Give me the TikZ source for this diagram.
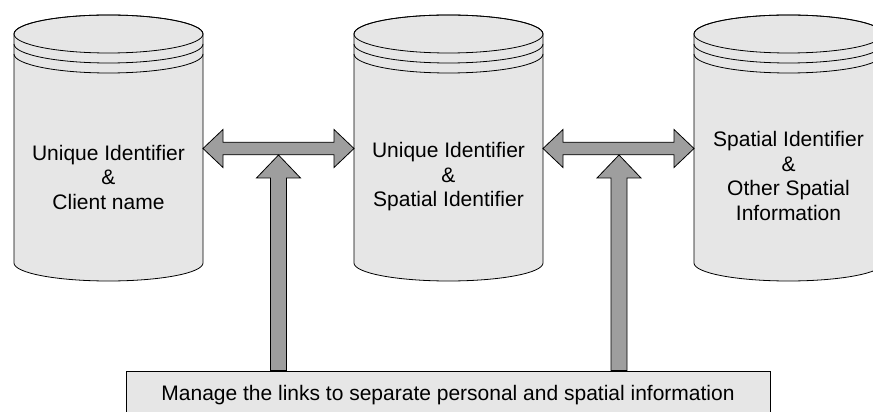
\documentclass[tikz,border=0pt]{standalone}
\usepackage{fontspec}
\setmainfont{Liberation Sans}
\usetikzlibrary{calc}
\definecolor{dbfill}{RGB}{230,230,230}
\definecolor{arrfill}{RGB}{158,158,158}
\newcommand\drawdb[1]{%
  \path[dbshape] (#1,378) -- (#1,149)
    arc[start angle=180,end angle=360,x radius=94.5,y radius=18]
    -- (#1+189,378)
    arc[start angle=0,end angle=180,x radius=94.5,y radius=19] -- cycle;
  \draw (#1+94.5,378) ellipse [x radius=94.5,y radius=19];
  \draw (#1,368) arc[start angle=180,end angle=360,x radius=94.5,y radius=19];
  \draw (#1,358) arc[start angle=180,end angle=360,x radius=94.5,y radius=19];
}
\begin{document}
\begin{tikzpicture}[x=1pt,y=1pt,line width=0.8pt,
  dbshape/.style={draw=black,fill=dbfill},
  dbtext/.style={align=center,font=\fontsize{21}{24.5}\selectfont,inner sep=0pt},
  mgrbox/.style={draw=black,fill=dbfill,minimum width=644,minimum height=48,
    font=\fontsize{21}{24.5}\selectfont,inner sep=0pt},
  blockarrow/.style={draw=black,fill=arrfill,line join=miter}]
\useasboundingbox (0,0) rectangle (873,412);
\clip (0,0) rectangle (873,412);

% databases
\drawdb{14}
\drawdb{354}
\drawdb{694}
\node[dbtext] (c1) at (108.5,235) {Unique Identifier\\\&\\Client name};
\node[dbtext] (c2) at (448.5,235) {Unique Identifier\\\&\\Spatial Identifier};
\node[dbtext] (c3) at (788.5,236) {Spatial Identifier\\\&\\Other Spatial\\Information};

% manager box
\node[mgrbox] (mgr) at (448,17) {Manage the links to separate personal and spatial information};

% connection points
\coordinate (d1r) at (203,263.5);
\coordinate (d2l) at (354,263.5);
\coordinate (d2r) at (543,263.5);
\coordinate (d3l) at (694,263.5);
\coordinate (j1) at (278.5,257);
\coordinate (j2) at (619,257);

% horizontal double block arrows
\foreach \a/\b in {d1r/d2l,d2r/d3l}{
  \draw[blockarrow] (\a)
    -- ($(\a)+(20,19)$) -- ($(\a)+(20,6.3)$)
    -- ($(\b)+(-20,6.3)$) -- ($(\b)+(-20,19)$)
    -- (\b)
    -- ($(\b)+(-20,-19)$) -- ($(\b)+(-20,-6.3)$)
    -- ($(\a)+(20,-6.3)$) -- ($(\a)+(20,-19)$) -- cycle;
}

% vertical block arrows from the manager box
\foreach \j in {j1,j2}{
  \draw[blockarrow] (\j)
    -- ($(\j)+(22,-23)$) -- ($(\j)+(8,-23)$)
    -- ($(\j |- mgr.north)+(8,0)$) -- ($(\j |- mgr.north)+(-8,0)$)
    -- ($(\j)+(-8,-23)$) -- ($(\j)+(-22,-23)$) -- cycle;
}
\end{tikzpicture}
\end{document}
